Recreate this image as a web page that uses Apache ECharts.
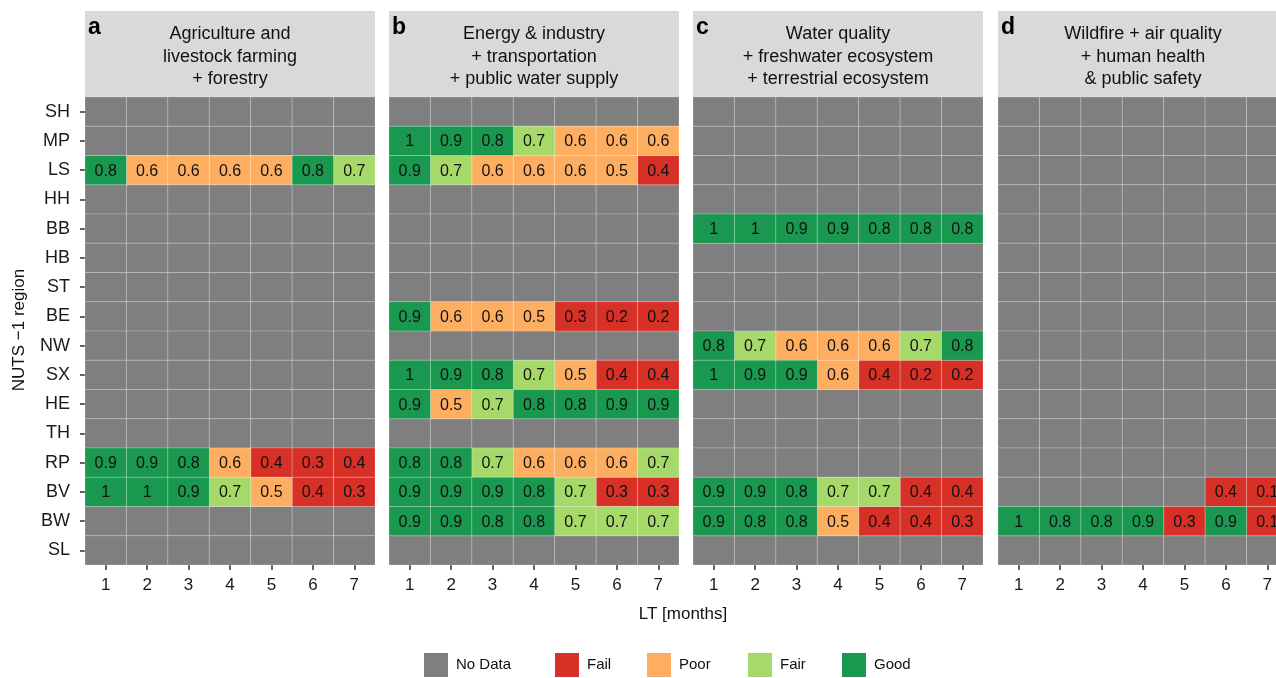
<!DOCTYPE html>
<html>
<head>
<meta charset="utf-8">
<script src="https://cdn.jsdelivr.net/npm/echarts@6/dist/echarts.min.js"></script>
<style>
html,body{margin:0;padding:0;background:#fff;}
#chart{width:1276px;height:678px;}
</style>
</head>
<body>
<div id="chart"></div>
<script>
// ---- data ----
const regions = ['SH','MP','LS','HH','BB','HB','ST','BE','NW','SX','HE','TH','RP','BV','BW','SL'];
const leadTimes = ['1','2','3','4','5','6','7'];
const panelLetters = ['a','b','c','d'];
const panelTitles = [
  'Agriculture and\nlivestock farming\n+ forestry',
  'Energy & industry\n+ transportation\n+ public water supply',
  'Water quality\n+ freshwater ecosystem\n+ terrestrial ecosystem',
  'Wildfire + air quality\n+ human health\n& public safety'
];
const skillA = {
  LS: [0.8,0.6,0.6,0.6,0.6,0.8,0.7],
  RP: [0.9,0.9,0.8,0.6,0.4,0.3,0.4],
  BV: [1,1,0.9,0.7,0.5,0.4,0.3]
};
const skillB = {
  MP: [1,0.9,0.8,0.7,0.6,0.6,0.6],
  LS: [0.9,0.7,0.6,0.6,0.6,0.5,0.4],
  BE: [0.9,0.6,0.6,0.5,0.3,0.2,0.2],
  SX: [1,0.9,0.8,0.7,0.5,0.4,0.4],
  HE: [0.9,0.5,0.7,0.8,0.8,0.9,0.9],
  RP: [0.8,0.8,0.7,0.6,0.6,0.6,0.7],
  BV: [0.9,0.9,0.9,0.8,0.7,0.3,0.3],
  BW: [0.9,0.9,0.8,0.8,0.7,0.7,0.7]
};
const skillC = {
  BB: [1,1,0.9,0.9,0.8,0.8,0.8],
  NW: [0.8,0.7,0.6,0.6,0.6,0.7,0.8],
  SX: [1,0.9,0.9,0.6,0.4,0.2,0.2],
  BV: [0.9,0.9,0.8,0.7,0.7,0.4,0.4],
  BW: [0.9,0.8,0.8,0.5,0.4,0.4,0.3]
};
const skillD = {
  BV: [null,null,null,null,null,0.4,0.1],
  BW: [1,0.8,0.8,0.9,0.3,0.9,0.1]
};
const panels = [skillA, skillB, skillC, skillD];
const classes = ['No Data','Fail','Poor','Fair','Good'];
const classColors = ['#7f7f7f','#d73027','#fdae61','#a6d96a','#1a9850'];

function classify(v){
  if (v === null || v === undefined) return 0;
  if (v >= 0.8) return 4;
  if (v >= 0.7) return 3;
  if (v >= 0.5) return 2;
  return 1;
}

// ---- layout ----
const FONT = 'Liberation Sans, Arial, Helvetica, sans-serif';
const panelLeft = [85, 389, 693, 998];
const panelW = 290, plotTop = 97, plotH = 468, stripTop = 11;

const grids = [], xAxes = [], yAxes = [], series = [], graphics = [];

panels.forEach((pd, p) => {
  grids.push({left: panelLeft[p], top: plotTop, width: panelW, height: plotH,
              containLabel: false, outerBoundsMode: 'none'});
  xAxes.push({
    type: 'category', gridIndex: p, data: leadTimes, boundaryGap: true,
    axisLine: {show: false},
    axisTick: {show: true, alignWithLabel: true, length: 5, lineStyle: {color: '#333', width: 1.5}},
    axisLabel: {fontSize: 17, color: '#1a1a1a', margin: 12, fontFamily: FONT},
    splitLine: {show: false}
  });
  yAxes.push({
    type: 'category', gridIndex: p, data: regions, inverse: true, boundaryGap: true,
    axisLine: {show: false},
    axisTick: {show: p === 0, alignWithLabel: true, length: 5, lineStyle: {color: '#333', width: 1.5}},
    axisLabel: {show: p === 0, fontSize: 18, color: '#1a1a1a', margin: 15, fontFamily: FONT},
    splitLine: {show: false}
  });
  const byClass = classes.map(() => []);
  regions.forEach((r, yi) => {
    leadTimes.forEach((lt, xi) => {
      const v = pd[r] ? pd[r][xi] : null;
      const c = classify(v);
      byClass[c].push([xi, yi, v === null || v === undefined ? 0 : v]);
    });
  });
  classes.forEach((cn, c) => {
    const showLabel = c > 0;
    series.push({
      type: 'custom', name: cn, xAxisIndex: p, yAxisIndex: p,
      itemStyle: {color: classColors[c]},
      data: byClass[c],
      renderItem: function(params, api){
        const pt = api.coord([api.value(0), api.value(1)]);
        const sz = api.size([1, 1]);
        const children = [{
          type: 'rect',
          shape: {x: pt[0] - sz[0]/2, y: pt[1] - sz[1]/2, width: sz[0], height: sz[1]},
          style: {fill: api.visual('color'), stroke: 'rgba(255,255,255,0.2)', lineWidth: 1}
        }];
        if (showLabel) {
          children.push({
            type: 'text',
            style: {text: String(api.value(2)), x: pt[0], y: pt[1] + 1, align: 'center', verticalAlign: 'middle',
                    font: '16px ' + FONT, fill: '#111'}
          });
        }
        return {type: 'group', children: children};
      }
    });
  });
  // strip
  graphics.push({type: 'rect', shape: {x: panelLeft[p], y: stripTop, width: panelW, height: plotTop - stripTop},
                 style: {fill: '#d9d9d9'}, z: 0});
  graphics.push({type: 'text', x: panelLeft[p] + 3, y: 28,
                 style: {text: panelLetters[p], font: 'bold 23px ' + FONT, fill: '#000', align: 'left', verticalAlign: 'middle'}, z: 2});
  graphics.push({type: 'text', x: panelLeft[p] + panelW/2, y: 57,
                 style: {text: panelTitles[p], font: '18px ' + FONT, lineHeight: 22.5, fill: '#111', align: 'center', verticalAlign: 'middle'}, z: 2});
});

graphics.push({type: 'text', x: 683, y: 614,
  style: {text: 'LT [months]', font: '17px ' + FONT, fill: '#111', align: 'center', verticalAlign: 'middle'}});
graphics.push({type: 'text', x: 19, y: 330, rotation: Math.PI/2,
  style: {text: 'NUTS \u22121 region', font: '17px ' + FONT, fill: '#111', align: 'center', verticalAlign: 'middle'}});

const legendLeft = [424, 555, 647, 748, 842];
const legends = classes.map((cn, i) => ({
  data: [cn], left: legendLeft[i], top: 653, padding: 0, orient: 'horizontal',
  icon: 'rect', itemWidth: 24, itemHeight: 24, selectedMode: false,
  textStyle: {fontSize: 15, color: '#111', fontFamily: FONT, padding: [3,0,0,3]}
}));

const chart = echarts.init(document.getElementById('chart'), null, {renderer: 'canvas'});
chart.setOption({
  animation: false,
  backgroundColor: '#ffffff',
  textStyle: {fontFamily: FONT},
  grid: grids, xAxis: xAxes, yAxis: yAxes,
  legend: legends,
  series: series,
  graphic: {elements: graphics}
});
</script>
</body>
</html>
